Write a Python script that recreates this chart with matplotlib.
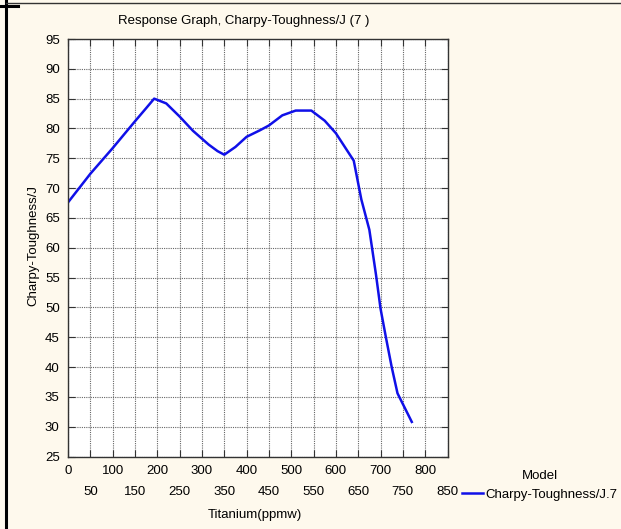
import matplotlib
matplotlib.use("Agg")
import matplotlib.pyplot as plt
from matplotlib.lines import Line2D
from matplotlib.ticker import MultipleLocator

# Titanium (ppmw) vs predicted Charpy toughness (J)
titanium = [0, 50, 100, 150, 175, 193, 220, 250, 280, 315, 335, 350, 375, 400,
            430, 450, 480, 510, 545, 575, 600, 640, 657, 675, 690, 700, 712,
            725, 738, 770]
toughness = [67.6, 72.4, 76.7, 81.2, 83.4, 85.0, 84.2, 82.0, 79.6, 77.3, 76.2,
             75.6, 76.9, 78.6, 79.7, 80.5, 82.2, 83.0, 83.0, 81.3, 79.2, 74.6,
             68.1, 63.0, 55.4, 49.8, 45.0, 40.0, 35.6, 30.8]

title = "Response Graph, Charpy-Toughness/J (7 )"
x_label = "Titanium(ppmw)"
y_label = "Charpy-Toughness/J"
legend_title = "Model"
series_name = "Charpy-Toughness/J.7"

fs = 9.5
plt.rcParams["font.family"] = ["Liberation Sans", "DejaVu Sans"]
plt.rcParams["font.size"] = fs

W, H = 621, 529
fig = plt.figure(figsize=(W / 100, H / 100), dpi=100, facecolor="#fef9ed")

ax = fig.add_axes([68 / W, 1 - 456.5 / H, 379.5 / W, 417.5 / H])
ax.set_facecolor("white")

ax.plot(titanium, toughness, color="#1010e8", lw=1.8, label=series_name)

ax.set_xlim(0, 850)
ax.set_ylim(25, 95)
ax.yaxis.set_major_locator(MultipleLocator(5))
# labels alternate between two rows: hundreds on top, fifties below
ax.set_xticks(list(range(0, 801, 100)))
ax.set_xticklabels([str(v) for v in range(0, 801, 100)])
ax.set_xticks(list(range(50, 851, 100)), minor=True)
ax.set_xticklabels([str(v) for v in range(50, 851, 100)], minor=True)

ax.tick_params(axis="both", which="both", direction="in", top=True, right=True,
               length=5, width=0.8, color="#333333", labelsize=fs)
ax.tick_params(axis="x", which="major", pad=6)
ax.tick_params(axis="x", which="minor", pad=21)
ax.tick_params(axis="y", pad=6)

ax.grid(True, which="both", color="#666666", ls=(0, (1, 1)), lw=0.8)
for s in ax.spines.values():
    s.set_color("#333333")
    s.set_linewidth(1.0)

fig.text(244 / W, 1 - 21 / H, title, ha="center", va="center", fontsize=fs)
fig.text(255 / W, 1 - 515 / H, x_label, ha="center", va="center", fontsize=fs)
fig.text(33 / W, 1 - 245 / H, y_label, ha="center", va="center",
         rotation=90, fontsize=fs)

ax.legend(title=legend_title, loc="upper left",
          bbox_to_anchor=(462 / W, 1 - 470 / H),
          bbox_transform=fig.transFigure, frameon=False, borderpad=0,
          handlelength=1.6, handletextpad=0.15, fontsize=fs,
          title_fontsize=fs, borderaxespad=0, labelspacing=0.5)

# page border from the source document
fig.add_artist(Line2D([6 / W, 6 / W], [0, 1], color="black", lw=2.2,
                      transform=fig.transFigure))
fig.add_artist(Line2D([6 / W, 1], [1 - 3 / H, 1 - 3 / H], color="#333333",
                      lw=1.0, transform=fig.transFigure))
fig.add_artist(Line2D([0, 18 / W], [1 - 6 / H, 1 - 6 / H], color="black",
                      lw=2.2, transform=fig.transFigure))

fig.savefig("out.png", dpi=100, facecolor=fig.get_facecolor())
